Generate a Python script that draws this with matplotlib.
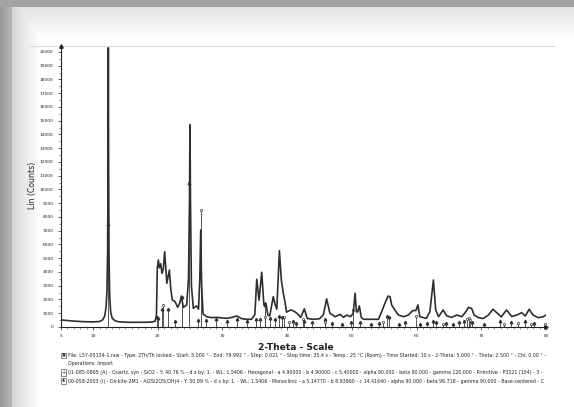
import matplotlib
matplotlib.use("Agg")
import matplotlib.pyplot as plt
import numpy as np

W, H = 574, 407

two_theta = [
    5.0, 6.0, 7.0, 8.0, 9.0, 10.0, 11.0, 11.5, 11.8, 12.0, 12.15, 12.25, 12.31, 12.36,
    12.41, 12.47, 12.57, 12.72, 12.95, 13.4, 14.0, 15.0, 16.0, 17.0, 18.0, 19.0, 19.6,
    19.8, 19.93, 20.09, 20.25, 20.45, 20.65, 20.85, 21.07, 21.4, 21.8, 22.0, 22.25, 22.66,
    23.08, 23.4, 23.65, 23.95, 24.47, 24.75, 24.9, 24.98, 25.06, 25.2, 25.5, 26.0, 26.3,
    26.5, 26.64, 26.78, 27.0, 27.55, 28.3, 29.1, 29.9, 30.7, 31.5, 32.2, 33.0, 33.75, 34.5,
    35.0, 35.3, 35.65, 36.07, 36.4, 36.7, 37.0, 37.3, 37.85, 38.1, 38.4, 38.8, 39.1, 39.4,
    39.65, 39.9, 40.55, 41.05, 41.5, 42.1, 42.65, 43.1, 44.0, 45.0, 45.6, 46.1, 46.6, 47.4,
    48.2, 48.7, 49.2, 49.8, 50.2, 50.5, 50.7, 50.9, 51.15, 51.45, 51.8, 53.0, 54.1, 54.6,
    55.1, 55.6, 55.9, 56.15, 56.7, 57.2, 58.0, 58.7, 59.4, 59.9, 60.2, 60.5, 61.5, 62.05,
    62.6, 62.95, 63.4, 64.1, 64.65, 65.4, 66.2, 67.0, 67.75, 68.0, 68.5, 68.9, 69.55, 70.3,
    71.1, 71.8, 72.4, 73.1, 73.9, 74.7, 75.5, 76.25, 76.8, 77.4, 78.0, 78.8, 79.6, 79.99,
]
counts = [
    520, 470, 430, 400, 380, 370, 400, 520, 800, 1400, 2600, 5500, 11000, 20300,
    11000, 5000, 2300, 1100, 650, 450, 380, 350, 340, 340, 345, 360, 420,
    900, 4300, 4870, 4300, 4600, 3900, 4200, 5470, 3180, 4140, 2810, 1960, 1850,
    1430, 1740, 2250, 1430, 1600, 3500, 9000, 14700, 9000, 3000, 1360, 1530, 1300,
    3500, 7050, 3000, 945, 750, 680, 700, 660, 630, 700, 800, 600, 560, 560,
    900, 3470, 1950, 3980, 1600, 1750, 870, 800, 2200, 1700, 1300, 5550, 3400, 2450,
    1850, 1080, 1240, 1150, 1000, 700, 1320, 620, 560, 600, 900, 2040, 1000, 750,
    920, 700, 870, 750, 1000, 2450, 1100, 1100, 1530, 700, 560, 560, 560, 1110,
    1720, 2250, 2200, 1600, 1190, 870, 750, 870, 1190, 1200, 1600, 750, 630, 1100,
    3420, 1240, 750, 1240, 820, 700, 870, 750, 1200, 1430, 1350, 870, 680, 620,
    870, 1290, 1040, 740, 1240, 760, 870, 1040, 800, 1290, 870, 680, 750, 870,
]

# reference sticks: quartz (A) and dickite (I)
quartz_pos = [20.86, 26.64, 36.54, 39.46, 40.29, 42.45, 45.79, 50.14, 54.87, 59.96,
              64.04, 67.74, 68.14, 68.31, 73.47, 75.66, 77.67, 79.88]
quartz_int = [1600, 8500, 750, 700, 380, 550, 380, 1200, 380, 800,
              250, 600, 650, 500, 250, 320, 200, 250]
dickite_pos = [12.36, 19.9, 20.1, 20.6, 21.6, 22.7, 23.7, 24.9, 26.2, 27.4, 29.0, 30.7,
               32.2, 33.8, 35.2, 35.8, 36.6, 37.3, 38.1, 38.7, 39.2, 40.9, 41.4, 42.6,
               43.9, 45.8, 47.0, 48.5, 49.8, 51.2, 53.0, 54.2, 55.5, 55.8, 57.3, 58.2,
               60.6, 61.6, 62.5, 63.0, 64.6, 65.7, 66.6, 67.3, 68.6, 70.4, 72.9, 74.6,
               76.8, 78.2]
dickite_int = [7500, 700, 650, 1300, 1300, 400, 2200, 10500, 500, 500, 550, 450,
               550, 400, 600, 550, 1600, 650, 600, 800, 700, 450, 300, 450,
               350, 550, 300, 250, 350, 350, 250, 300, 800, 700, 250, 350,
               250, 300, 450, 350, 300, 250, 350, 400, 350, 250, 450, 350,
               400, 300]

y_ticks = list(range(0, 20001, 1000))
x_ticks = [5, 10, 20, 30, 40, 50, 60, 70, 80]

footer_lines = [
    "File: L57-05134-1.raw - Type: 2Th/Th locked - Start: 5.000 \u00b0 - End: 79.992 \u00b0 - "
    "Step: 0.021 \u00b0 - Step time: 35.4 s - Temp.: 25 \u00b0C (Room) - Time Started: 10 s - "
    "2-Theta: 5.000 \u00b0 - Theta: 2.500 \u00b0 - Chi: 0.00 \u00b0 -",
    "Operations: Import",
    "01-085-0865 (A) - Quartz, syn - SiO2 - Y: 40.76 % - d x by: 1. - WL: 1.5406 - Hexagonal - "
    "a 4.90000 - b 4.90000 - c 5.40000 - alpha 90.000 - beta 90.000 - gamma 120.000 - "
    "Primitive - P3221 (154) - 3 -",
    "00-058-2003 (I) - Dickite-2M1 - Al2Si2O5(OH)4 - Y: 50.89 % - d x by: 1. - WL: 1.5406 - "
    "Monoclinic - a 5.14770 - b 8.93960 - c 14.41640 - alpha 90.000 - beta 96.718 - "
    "gamma 90.000 - Base-centered - C",
]

fig = plt.figure(figsize=(W / 100, H / 100), dpi=100)

# screenshot frame: grey border and soft shadow of the white panel
bg_ax = fig.add_axes([0, 0, 1, 1], zorder=0)
xs = np.arange(W)[None, :]
ys = np.arange(H)[:, None]
shade = np.maximum(np.clip(1 - (xs - 12) / 28.0, 0, 1) * 0.16,
                   np.clip(1 - (ys - 7) / 32.0, 0, 1) * 0.12)
bg = 1.0 - shade
bg = np.broadcast_to(bg, (H, W)).copy()
bg[:, :12] = 0.60 + 0.12 * (xs[:, :12] / 12.0)
bg[:7, :] = 0.64
bg_ax.imshow(bg, cmap="gray", vmin=0, vmax=1, aspect="auto",
             extent=[0, W, H, 0], interpolation="bilinear")
bg_ax.plot([29, 555], [46, 46], color="#dcdcdc", lw=0.8)
bg_ax.set_xlim(0, W)
bg_ax.set_ylim(H, 0)
bg_ax.axis("off")

# plot area in pixel coordinates
x0, x1 = 60.7, 546.0
y_top, y_bot = 46.4, 327.0
ax = fig.add_axes([x0 / W, 1 - y_bot / H, (x1 - x0) / W, (y_bot - y_top) / H], zorder=2)
ax.patch.set_alpha(0)

ax.vlines(quartz_pos, 0, quartz_int, color="#3a3a3a", lw=0.6, zorder=2)
ax.vlines(dickite_pos, 0, dickite_int, color="#3a3a3a", lw=0.6, zorder=2)
ax.plot(quartz_pos, quartz_int, ls="none", marker="o", ms=1.6, mfc="white",
        mec="#333333", mew=0.5, zorder=3)
ax.plot(dickite_pos, dickite_int, ls="none", marker="^", ms=1.8, color="#333333", zorder=3)
ax.plot(two_theta, counts, color="#2e2e2e", lw=1.2, zorder=4)

ax.set_xlim(5, 80)
ax.set_ylim(0, 20400)
ax.set_xticks(x_ticks)
ax.set_xticks(np.arange(5, 81, 1), minor=True)
ax.set_yticks(y_ticks)
ax.set_yticks(np.arange(0, 20001, 500), minor=True)
ax.tick_params(axis="both", which="major", labelsize=3.2, length=2.2, width=0.5,
               pad=3, colors="#222222")
ax.tick_params(axis="both", which="minor", length=1.3, width=0.4, colors="#444444")
for side in ("top", "right"):
    ax.spines[side].set_visible(False)
for side in ("left", "bottom"):
    ax.spines[side].set_linewidth(0.8)
    ax.spines[side].set_color("#222222")
ax.plot(1, 0, ">", transform=ax.transAxes, clip_on=False, color="#222222", ms=2.5)
ax.plot(0, 1, "^", transform=ax.transAxes, clip_on=False, color="#222222", ms=2.5)

fig.text(33 / W, 1 - 185 / H, "Lin (Counts)", rotation=90, fontsize=5.6,
         ha="center", va="center", color="#222222")
fig.text(334 / W, 1 - 347 / H, "2-Theta - Scale", fontsize=6.6, fontweight="bold",
         ha="right", va="center", color="#222222")

line_y = [355.5, 364, 372.5, 381]
for i, (txt, yy) in enumerate(zip(footer_lines, line_y)):
    fig.text(68 / W, 1 - yy / H, txt, fontsize=3.4, ha="left", va="center",
             color="#222222")
icons = [(0, "\u25a3"), (2, "+"), (3, "\u25b2")]
for i, sym in icons:
    fig.text(63.5 / W, 1 - line_y[i] / H, sym, fontsize=3.0 if sym != "+" else 3.6,
             ha="center", va="center", color="#222222",
             bbox=dict(boxstyle="square,pad=0.15", fc="white", ec="#333333", lw=0.4))

fig.savefig("out.png", dpi=100)
